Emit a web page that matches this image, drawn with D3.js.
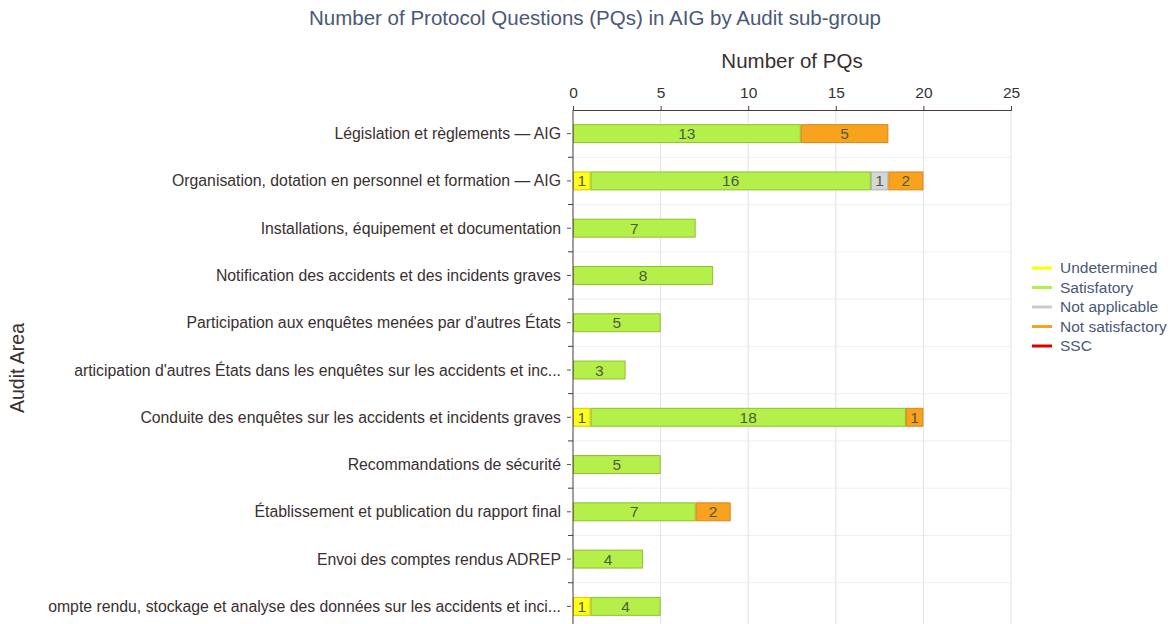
<!DOCTYPE html>
<html>
<head>
<meta charset="utf-8">
<script src="https://cdn.jsdelivr.net/npm/d3@7"></script>
<style>
  body { margin: 0; background: #fff; }
  svg { display: block; font-family: "Liberation Sans", Arial, sans-serif; }
</style>
</head>
<body>
<div id="root"></div>
<script>
const categories = [
  "Législation et règlements — AIG",
  "Organisation, dotation en personnel et formation — AIG",
  "Installations, équipement et documentation",
  "Notification des accidents et des incidents graves",
  "Participation aux enquêtes menées par d'autres États",
  "articipation d'autres États dans les enquêtes sur les accidents et inc...",
  "Conduite des enquêtes sur les accidents et incidents graves",
  "Recommandations de sécurité",
  "Établissement et publication du rapport final",
  "Envoi des comptes rendus ADREP",
  "ompte rendu, stockage et analyse des données sur les accidents et inci..."
]
const seriesNames = ["Undetermined", "Satisfatory", "Not applicable", "Not satisfactory", "SSC"]
const undetermined    = [0, 1, 0, 0, 0, 0, 1, 0, 0, 0, 1]
const satisfatory     = [13, 16, 7, 8, 5, 3, 18, 5, 7, 4, 4]
const notApplicable   = [0, 1, 0, 0, 0, 0, 0, 0, 0, 0, 0]
const notSatisfactory = [5, 2, 0, 0, 0, 0, 1, 0, 2, 0, 0]
const ssc             = [0, 0, 0, 0, 0, 0, 0, 0, 0, 0, 0]
const xTicks = [0, 5, 10, 15, 20, 25]

const fills   = ["#ffff1a", "#b5f04a", "#d6d6d6", "#f8a21e", "#e41a1a"]
const strokes = ["#d8c800", "#8fbf2a", "#b0b0b0", "#d9861a", "#b01010"]
const legendCols = ["#ffff00", "#b5f04a", "#cccccc", "#f8a21e", "#e00000"]

const W = 1175, H = 624
const svg = d3.select("#root").append("svg").attr("width", W).attr("height", H)

const x = d3.scaleLinear().domain([0, 25]).range([573, 1011])
const y = d3.scaleBand().domain(categories).range([110, 630])
  .paddingInner(0.6).paddingOuter(0.3)

const table = categories.map((c, i) => ({
  cat: c,
  "Undetermined": undetermined[i],
  "Satisfatory": satisfatory[i],
  "Not applicable": notApplicable[i],
  "Not satisfactory": notSatisfactory[i],
  "SSC": ssc[i]
}))
const stacked = d3.stack().keys(seriesNames)(table)

// grid
const step = y.step()
const bounds = d3.range(categories.length + 1).map(i => 110 + i * step)
svg.append("g").selectAll("line").data(bounds.slice(1)).join("line")
  .attr("x1", x(0)).attr("x2", x(25)).attr("y1", d => d).attr("y2", d => d)
  .attr("stroke", "#efefef")
svg.append("g").selectAll("line").data(xTicks.slice(1)).join("line")
  .attr("x1", d => x(d)).attr("x2", d => x(d)).attr("y1", 110).attr("y2", H)
  .attr("stroke", "#e0e0e0")

// bars
const bars = svg.append("g")
stacked.forEach((s, si) => {
  const g = bars.append("g")
  const segs = s.filter(d => d[1] - d[0] > 0)
  g.selectAll("rect").data(segs).join("rect")
    .attr("x", d => x(d[0]) + 0.5)
    .attr("y", d => y(d.data.cat) + 0.5)
    .attr("width", d => x(d[1]) - x(d[0]) - 1)
    .attr("height", y.bandwidth() - 1)
    .attr("fill", fills[si]).attr("stroke", strokes[si])
  g.selectAll("text").data(segs).join("text")
    .attr("x", d => (x(d[0]) + x(d[1])) / 2)
    .attr("y", d => y(d.data.cat) + y.bandwidth() / 2 + 5.5)
    .attr("text-anchor", "middle").attr("font-size", 15.5).attr("fill", "#505a40")
    .text(d => d[1] - d[0])
})

// top axis
const xAxis = svg.append("g").attr("transform", "translate(0,110)")
  .call(d3.axisTop(x).tickValues(xTicks).tickSize(4).tickPadding(8))
xAxis.select(".domain").attr("stroke", "#4a3a3a")
xAxis.selectAll(".tick line").attr("stroke", "#4a3a3a")
xAxis.selectAll("text").attr("font-size", 15.5).attr("fill", "#333")
  .attr("font-family", "Liberation Sans, Arial, sans-serif")

// left axis
svg.append("line").attr("x1", x(0)).attr("x2", x(0)).attr("y1", 110).attr("y2", H)
  .attr("stroke", "#4a3a3a")
svg.append("g").selectAll("line").data(bounds.slice(1)).join("line")
  .attr("x1", x(0) - 5).attr("x2", x(0)).attr("y1", d => d).attr("y2", d => d)
  .attr("stroke", "#4a3a3a")
svg.append("g").selectAll("line").data(categories).join("line")
  .attr("x1", x(0) - 6).attr("x2", x(0) - 2)
  .attr("y1", d => y(d) + y.bandwidth() / 2).attr("y2", d => y(d) + y.bandwidth() / 2)
  .attr("stroke", "#555")
svg.append("g").selectAll("text").data(categories).join("text")
  .attr("x", 561).attr("y", d => y(d) + y.bandwidth() / 2 + 5.5)
  .attr("text-anchor", "end").attr("font-size", 15.8).attr("fill", "#3a2f2f")
  .text(d => d)

// titles
svg.append("text").attr("x", 595).attr("y", 25).attr("text-anchor", "middle")
  .attr("font-size", 20.5).attr("fill", "#4a5878")
  .text("Number of Protocol Questions (PQs) in AIG by Audit sub-group")
svg.append("text").attr("x", 792).attr("y", 68).attr("text-anchor", "middle")
  .attr("font-size", 20.5).attr("fill", "#3a2f2f").text("Number of PQs")
svg.append("text").attr("transform", "translate(24,368) rotate(-90)")
  .attr("text-anchor", "middle").attr("font-size", 19.5).attr("fill", "#3a2f2f")
  .text("Audit Area")

// legend
const lg = svg.append("g").attr("transform", "translate(1032,268)")
seriesNames.forEach((n, i) => {
  lg.append("line").attr("x1", 0).attr("x2", 20).attr("y1", i * 19.5).attr("y2", i * 19.5)
    .attr("stroke", legendCols[i]).attr("stroke-width", 3)
  lg.append("text").attr("x", 28).attr("y", i * 19.5 + 5).attr("font-size", 15.5)
    .attr("fill", "#4a5878").text(n)
})
</script>
</body>
</html>
